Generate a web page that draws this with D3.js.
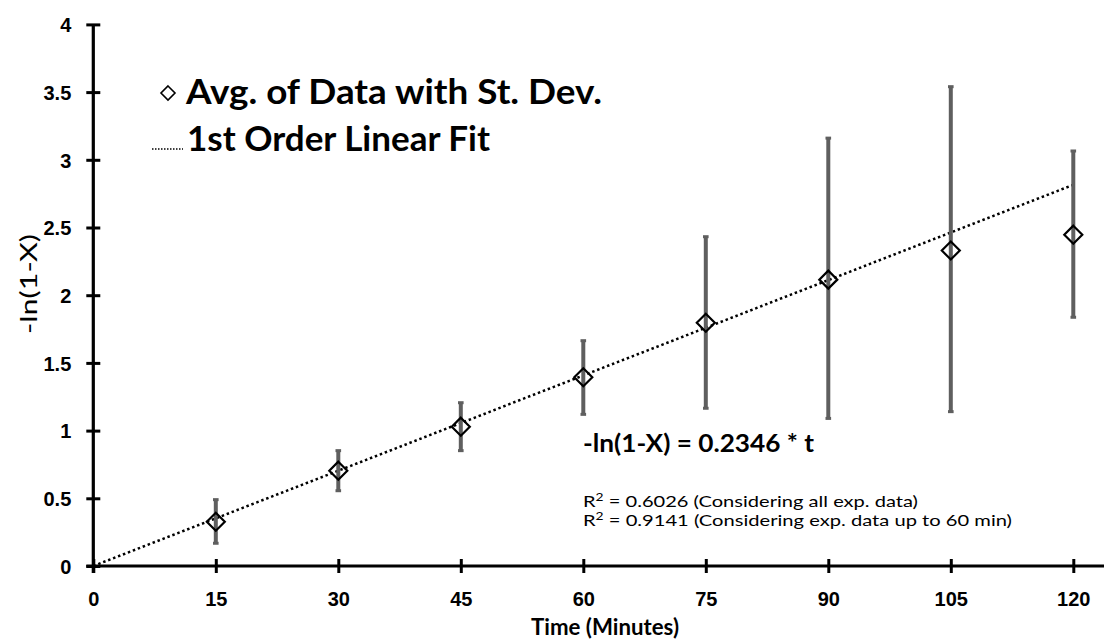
<!DOCTYPE html>
<html>
<head>
<meta charset="utf-8">
<script src="https://cdn.jsdelivr.net/npm/d3@7"></script>
<style>
  body { margin: 0; background: #fff; }
  svg { display: block; font-family: Lato, "Open Sans", sans-serif; }
</style>
</head>
<body>
<div id="container"></div>
<script>
// values
const times = [15, 30, 45, 60, 75, 90, 105, 120];
const means = [0.327, 0.704, 1.029, 1.394, 1.797, 2.115, 2.33, 2.447];
const lows = [0.168, 0.556, 0.852, 1.12, 1.165, 1.09, 1.14, 1.837];
const highs = [0.49, 0.852, 1.206, 1.664, 2.432, 3.16, 3.54, 3.065];
const xTicks = [0, 15, 30, 45, 60, 75, 90, 105, 120];
const yTicks = [0, 0.5, 1, 1.5, 2, 2.5, 3, 3.5, 4];
const slope = 0.02346;
const fitRange = [0, 120];

const width = 1104, height = 642;
const x = d3.scaleLinear().domain([0, 120]).range([93.3, 1073.3]);
const y = d3.scaleLinear().domain([0, 4]).range([566, 24.4]);

const svg = d3.select('#container').append('svg')
  .attr('width', width).attr('height', height);

// axes
const xAxis = svg.append('g')
  .attr('transform', `translate(0,${y(0)})`)
  .call(d3.axisBottom(x).tickValues(xTicks).tickSize(0).tickPadding(0));
xAxis.select('.domain').remove();
xAxis.selectAll('.tick line').attr('y1', -7).attr('y2', 7)
  .attr('stroke', '#000').attr('stroke-width', 3);
xAxis.selectAll('.tick text').attr('dy', 0).attr('y', 40)
  .style('font-size', '20px').style('font-weight', 700).attr('fill', '#000');

const yAxis = svg.append('g')
  .attr('transform', `translate(${x(0)},0)`)
  .call(d3.axisLeft(y).tickValues(yTicks).tickSize(0).tickPadding(0)
    .tickFormat(d => d3.format('')(d)));
yAxis.select('.domain').remove();
yAxis.selectAll('.tick line').attr('x1', -7).attr('x2', 7)
  .attr('stroke', '#000').attr('stroke-width', 3);
yAxis.selectAll('.tick text').attr('x', -22).attr('dy', '0.36em')
  .style('font-size', '20px').style('font-weight', 700).attr('fill', '#000');

svg.append('line')
  .attr('x1', x(0) - 7).attr('x2', width).attr('y1', y(0)).attr('y2', y(0))
  .attr('stroke', '#000').attr('stroke-width', 3.2);
svg.append('line')
  .attr('x1', x(0)).attr('x2', x(0)).attr('y1', y(4)).attr('y2', y(0) + 7)
  .attr('stroke', '#000').attr('stroke-width', 3.2);

// axis titles
svg.append('text')
  .attr('x', 531).attr('y', 635)
  .style('font-size', '22px').style('font-weight', 700)
  .attr('textLength', 148).attr('lengthAdjust', 'spacingAndGlyphs')
  .text('Time (Minutes)');
svg.append('text')
  .attr('transform', `translate(37,284) rotate(-90)`)
  .attr('x', -50)
  .style('font-size', '24px')
  .attr('textLength', 100).attr('lengthAdjust', 'spacingAndGlyphs')
  .text('-ln(1-X)');

// linear fit
svg.append('line')
  .attr('x1', x(fitRange[0])).attr('y1', y(slope * fitRange[0]))
  .attr('x2', x(fitRange[1])).attr('y2', y(slope * fitRange[1]))
  .attr('stroke', '#000').attr('stroke-width', 2.5)
  .attr('stroke-dasharray', '2.5 2.8');

// error bars
const pts = times.map((t, i) => ({ t: t, m: means[i], lo: lows[i], hi: highs[i] }));
const bars = svg.append('g');
bars.selectAll('line.bar').data(pts).enter().append('line')
  .attr('x1', d => x(d.t)).attr('x2', d => x(d.t))
  .attr('y1', d => y(d.lo)).attr('y2', d => y(d.hi))
  .attr('stroke', '#5f5f5f').attr('stroke-width', 4);
['lo', 'hi'].forEach(k => {
  bars.selectAll('rect.cap' + k).data(pts).enter().append('rect')
    .attr('x', d => x(d.t) - 2.8).attr('y', d => y(d[k]) - 1.5)
    .attr('width', 5.6).attr('height', 3)
    .attr('fill', '#5f5f5f');
});

// diamonds
const diamond = (cx, cy, r) => `M${cx},${cy - r}L${cx + r},${cy}L${cx},${cy + r}L${cx - r},${cy}Z`;
svg.append('g').selectAll('path').data(pts).enter().append('path')
  .attr('d', d => diamond(x(d.t), y(d.m), 9))
  .attr('fill', 'none').attr('stroke', '#000').attr('stroke-width', 2.2);

// legend
svg.append('path').attr('d', diamond(168, 93, 7))
  .attr('fill', 'none').attr('stroke', '#000').attr('stroke-width', 1.6);
svg.append('text').attr('x', 186).attr('y', 104)
  .style('font-size', '34px').style('font-weight', 700)
  .attr('textLength', 416).attr('lengthAdjust', 'spacingAndGlyphs')
  .text('Avg. of Data with St. Dev.');
svg.append('line').attr('x1', 152).attr('x2', 183).attr('y1', 149).attr('y2', 149)
  .attr('stroke', '#000').attr('stroke-width', 1.5).attr('stroke-dasharray', '1.5 1.5');
svg.append('text').attr('x', 187).attr('y', 151)
  .style('font-size', '34px').style('font-weight', 700)
  .attr('textLength', 303).attr('lengthAdjust', 'spacingAndGlyphs')
  .text('1st Order Linear Fit');

// annotations
svg.append('text').attr('x', 583).attr('y', 452)
  .style('font-size', '25px').style('font-weight', 700)
  .attr('textLength', 231).attr('lengthAdjust', 'spacingAndGlyphs')
  .text('-ln(1-X) = 0.2346 * t');

const r2 = [['0.6026', 'Considering all exp. data', 335], ['0.9141', 'Considering exp. data up to 60 min', 429]];
r2.forEach((r, i) => {
  const t = svg.append('text').attr('x', 583).attr('y', 507 + i * 18.5)
    .style('font-size', '16px')
    .attr('textLength', r[2]).attr('lengthAdjust', 'spacingAndGlyphs');
  t.append('tspan').text('R');
  t.append('tspan').attr('dy', -6).style('font-size', '11px').text('2');
  t.append('tspan').attr('dy', 6).text(` = ${r[0]} (${r[1]})`);
});
</script>
</body>
</html>
